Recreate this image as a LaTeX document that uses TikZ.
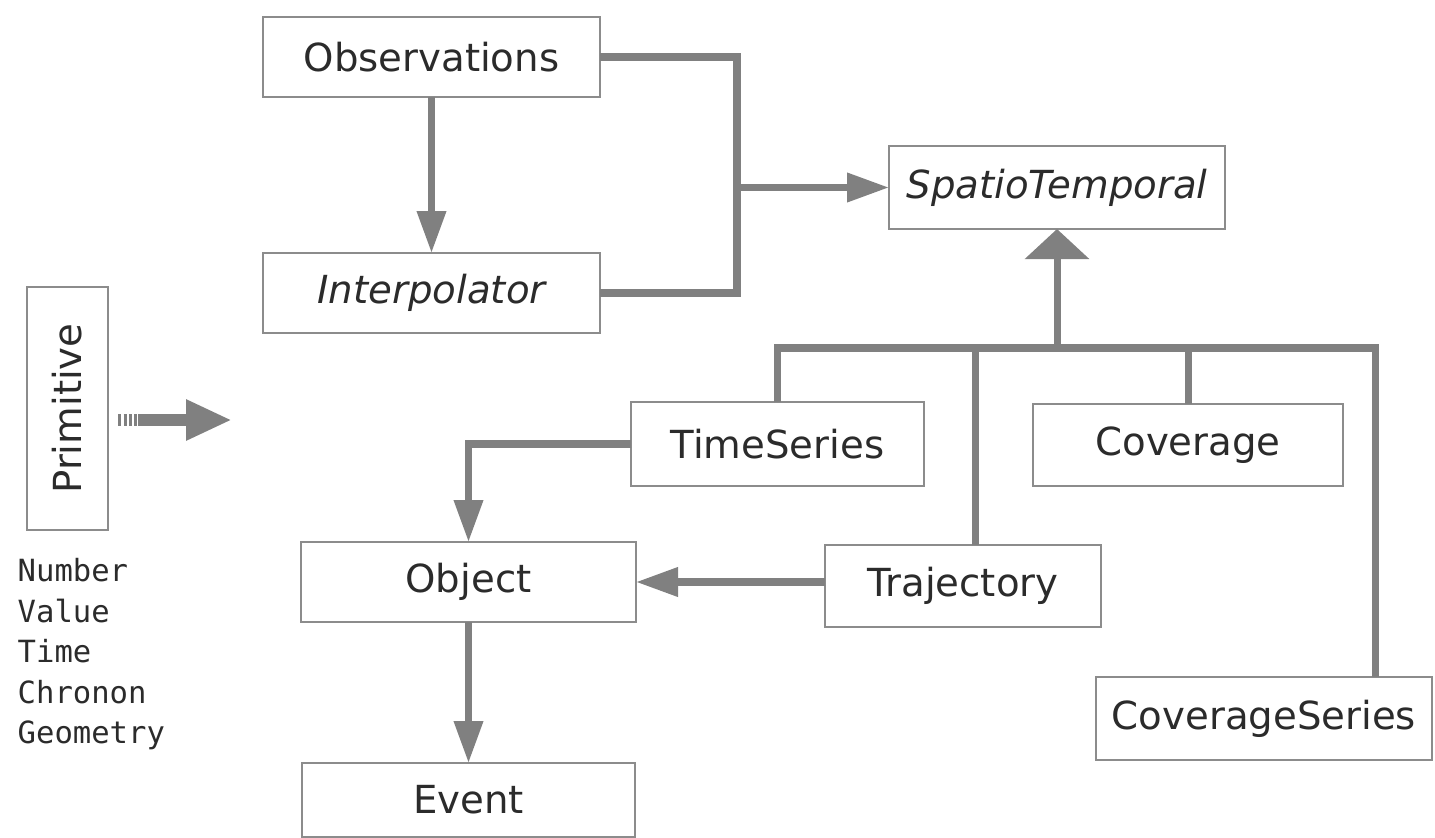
\documentclass[tikz,border=0pt]{standalone}
\usepackage{fontspec}
\setmainfont{DejaVu Sans}
\setmonofont{DejaVu Sans Mono}
\usepackage{xcolor}
\definecolor{linegrey}{gray}{0.5}
\definecolor{boxgrey}{gray}{0.55}
\definecolor{darkgrey}{gray}{0.17}
\usepackage{tikz}
\usetikzlibrary{arrows.meta}

\begin{document}
\begin{tikzpicture}[
    every node/.style={font=\fontsize{11}{13}\selectfont, text=darkgrey},
    classbox/.style={draw=boxgrey, line width=0.6pt, fill=white, inner sep=0pt, outer sep=0pt, minimum height=0.8cm},
    conn/.style={draw=linegrey, line width=2pt},
    arrow/.style={conn, -{Triangle[length=0.42cm, width=0.28cm]}},
    inherit/.style={conn, -{Triangle[length=0.3cm, width=0.63cm]}}
]
\useasboundingbox (0,0) rectangle (14.35,-8.37);

% Classes
\node (obs) [classbox, minimum width=3.37cm] at (4.315,-0.57) {Observations};
\node (interp) [classbox, minimum width=3.37cm] at (4.315,-2.93) {\itshape Interpolator};
\node (spatio) [classbox, minimum width=3.36cm, minimum height=0.83cm] at (10.57,-1.875) {\itshape SpatioTemporal};
\node (prim) [classbox, rotate=90, minimum width=2.43cm, minimum height=0.81cm] at (0.675,-4.085) {Primitive};
\node (tseries) [classbox, minimum width=2.93cm, minimum height=0.84cm] at (7.775,-4.44) {TimeSeries};
\node (cov) [classbox, minimum width=3.10cm, minimum height=0.82cm] at (11.88,-4.45) {Coverage};
\node (obj) [classbox, minimum width=3.35cm] at (4.685,-5.82) {Object};
\node (traj) [classbox, minimum width=2.76cm, minimum height=0.82cm] at (9.63,-5.86) {Trajectory};
\node (covser) [classbox, minimum width=3.36cm, minimum height=0.83cm] at (12.64,-7.185) {CoverageSeries};
\node (event) [classbox, minimum width=3.33cm, minimum height=0.74cm] at (4.685,-8.0) {Event};

% Primitive types
\node (primlist) [anchor=north west, inner sep=0pt, align=left, font=\ttfamily\fontsize{8.7}{11.5}\selectfont] at (0.17,-5.58)
    {Number\\Value\\Time\\Chronon\\Geometry};

% Implicit conversion
\coordinate (implA) at (1.18,-4.20);
\coordinate (implB) at (1.38,-4.20);
\coordinate (implC) at (2.32,-4.20);
\draw [linegrey, line width=3.3pt, dash pattern=on 0.03cm off 0.025cm] (implA) -- (implB);
\draw [linegrey, line width=3.3pt, -{Triangle[length=0.46cm, width=0.38cm]}] (implB) -- (implC);

% Relationships
\coordinate (merge) at (7.37,-1.875);
\draw [conn] (obs.east) -| (merge) |- (interp.east);
\draw [arrow] (merge) -- (spatio.west);
\draw [arrow] (obs.south) -- (interp.north);

\coordinate (bus) at (10.57,-3.48);
\draw [conn] (tseries.north) |- (bus) -| ([xshift=-0.57cm]covser.north east);
\draw [conn] ([xshift=0.12cm]traj.north) -- ([xshift=0.12cm]traj.north |- bus);
\draw [conn] (cov.north) -- (cov.north |- bus);
\draw [inherit] (bus) -- (spatio.south);

\draw [arrow] (tseries.west) -| (obj.north);
\draw [arrow] (traj.west |- obj.east) -- (obj.east);
\draw [arrow] (obj.south) -- (event.north);
\end{tikzpicture}
\end{document}
